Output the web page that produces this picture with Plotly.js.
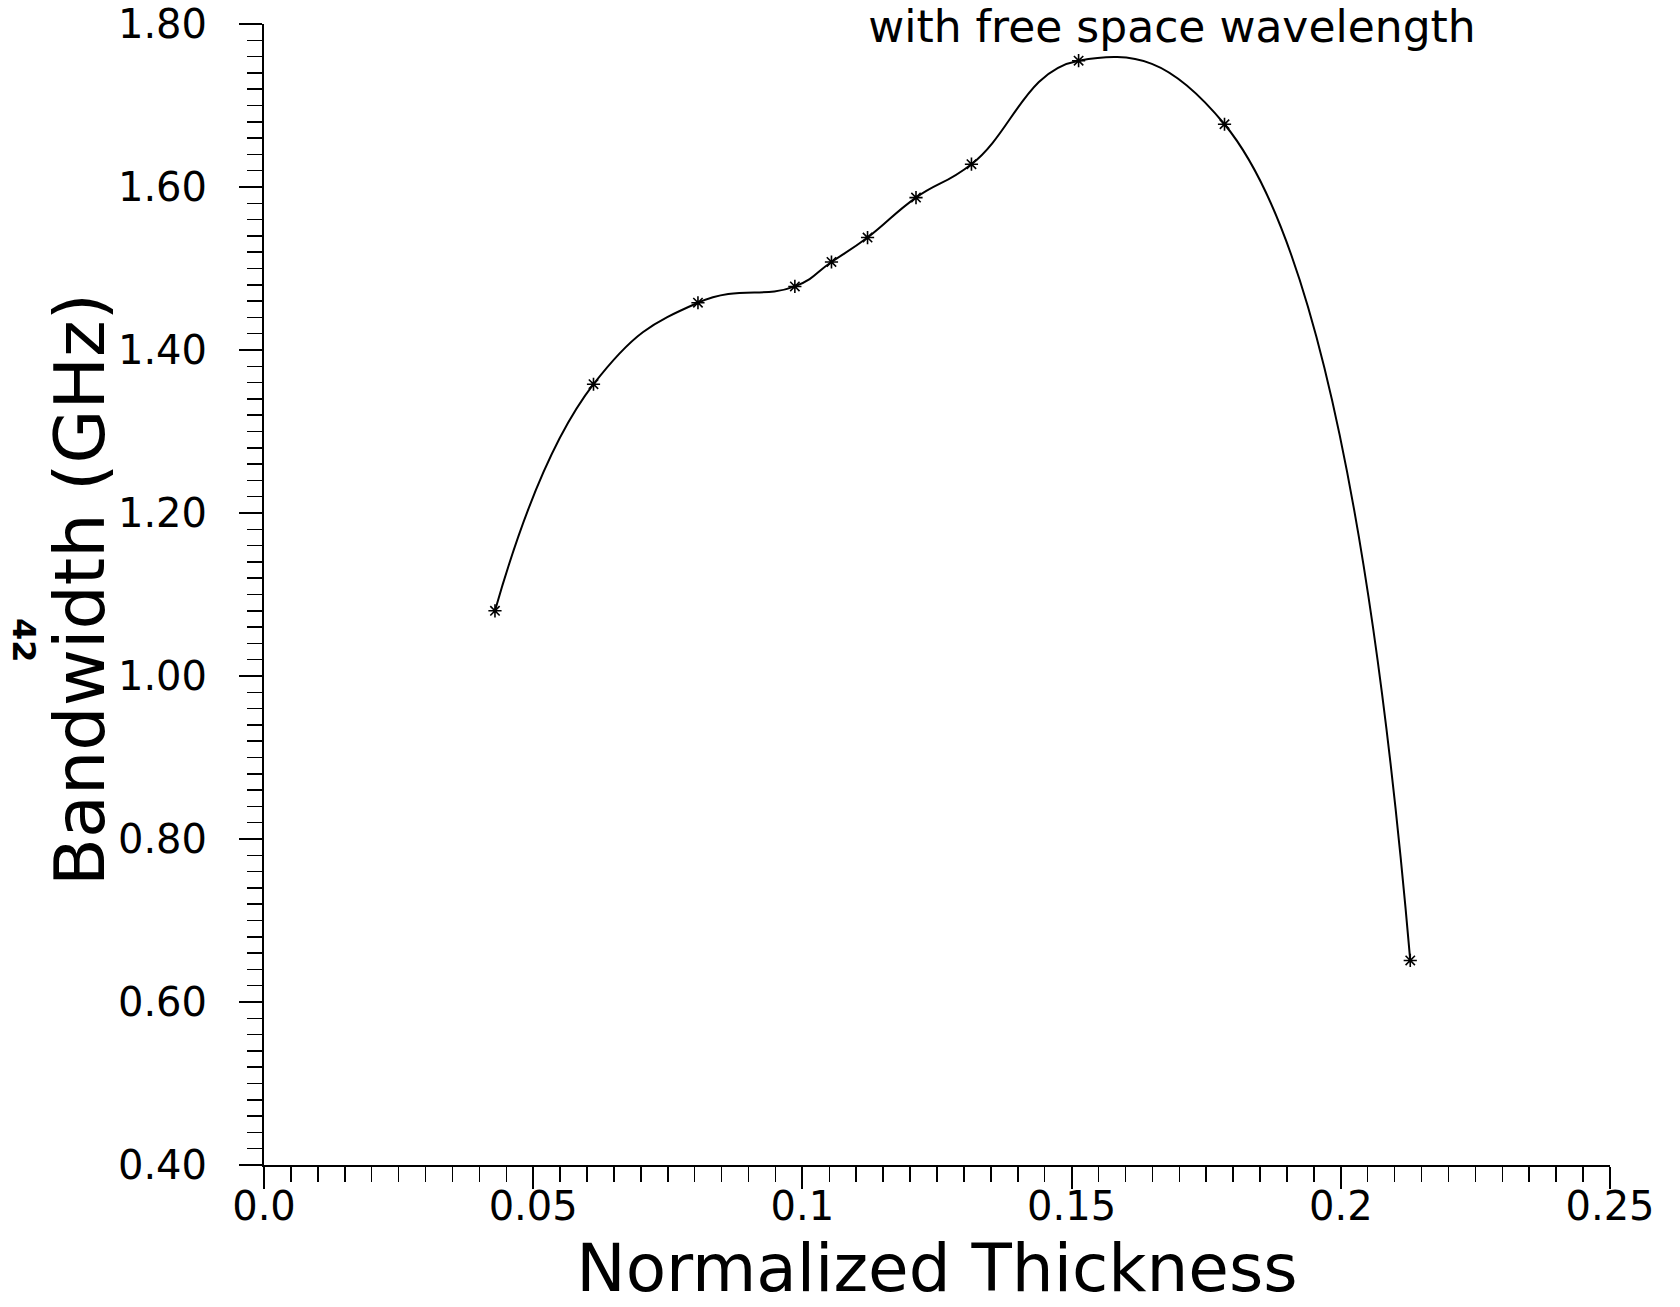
<!DOCTYPE html>
<html>
<head>
<meta charset="utf-8">
<script src="https://cdn.plot.ly/plotly-3.0.1.min.js"></script>
<style>
  html, body { margin: 0; padding: 0; background: #ffffff; }
  #chart { width: 1680px; height: 1307px; }
</style>
</head>
<body>
<div id="chart"></div>
<script>
// Data
const thickness = [0.0429, 0.0612, 0.0806, 0.0986, 0.1054, 0.1121, 0.1211, 0.1314, 0.1513, 0.1784, 0.2129];
const bandwidth = [1.080, 1.358, 1.458, 1.478, 1.508, 1.538, 1.587, 1.628, 1.755, 1.677, 0.651];

const xTickVals = [0, 0.05, 0.1, 0.15, 0.2, 0.25];
const xTickText = ["0.0", "0.05", "0.1", "0.15", "0.2", "0.25"];
const yTickVals = [0.4, 0.6, 0.8, 1.0, 1.2, 1.4, 1.6, 1.8];
const yTickText = ["0.40", "0.60", "0.80", "1.00", "1.20", "1.40", "1.60", "1.80"];

const titleText = "with free space wavelength";
const xTitle = "Normalized Thickness";
const yTitle = "Bandwidth (GHz)";
const pageNumber = "42";

const FONT = "DejaVu Sans, Noto Sans, sans-serif";

const trace = {
  x: thickness,
  y: bandwidth,
  type: "scatter",
  mode: "lines+markers",
  line: { color: "#000000", width: 2, shape: "spline", smoothing: 1.3 },
  marker: { symbol: "asterisk-open", size: 11, color: "#000000", line: { color: "#000000", width: 1.6 } },
  showlegend: false,
  hoverinfo: "x+y"
};

const layout = {
  width: 1680,
  height: 1307,
  paper_bgcolor: "#ffffff",
  plot_bgcolor: "#ffffff",
  margin: { l: 264, r: 70, t: 24, b: 142, pad: 0 },
  font: { family: FONT, color: "#000000", size: 40 },
  title: {
    text: titleText,
    x: 1172 / 1680,
    xanchor: "center",
    y: 1 - 27 / 1307,
    yanchor: "middle",
    font: { family: FONT, size: 44, color: "#000000" }
  },
  xaxis: {
    range: [0, 0.25],
    tickmode: "array",
    tickvals: xTickVals,
    ticktext: xTickText,
    ticks: "outside",
    ticklen: 22,
    tickwidth: 2,
    tickcolor: "#000000",
    minor: { dtick: 0.005, tick0: 0, ticks: "outside", ticklen: 15, tickwidth: 1.5, tickcolor: "#000000", showgrid: false },
    showline: true,
    linecolor: "#000000",
    linewidth: 2,
    showgrid: false,
    zeroline: false,
    mirror: false,
    ticklabelstandoff: -17,
    tickfont: { family: FONT, size: 40, color: "#000000" },
    title: { text: xTitle, font: { family: FONT, size: 66, color: "#000000" }, standoff: 24 }
  },
  yaxis: {
    range: [0.4, 1.8],
    tickmode: "array",
    tickvals: yTickVals,
    ticktext: yTickText,
    ticks: "outside",
    ticklen: 23,
    tickwidth: 2,
    tickcolor: "#000000",
    minor: { dtick: 0.02, tick0: 0.4, ticks: "outside", ticklen: 15, tickwidth: 1.5, tickcolor: "#000000", showgrid: false },
    showline: true,
    linecolor: "#000000",
    linewidth: 2,
    showgrid: false,
    zeroline: false,
    mirror: false,
    ticklabelstandoff: 24,
    tickfont: { family: FONT, size: 40, color: "#000000" }
  },
  annotations: [
    {
      text: yTitle,
      xref: "paper", yref: "paper",
      x: (80 - 264) / 1346, y: 1 - (590 - 24) / 1141,
      xanchor: "center", yanchor: "middle",
      textangle: -90,
      showarrow: false,
      font: { family: FONT, size: 70, color: "#000000" }
    },
    {
      text: pageNumber,
      xref: "paper", yref: "paper",
      x: (24 - 264) / 1346, y: 1 - (640 - 24) / 1141,
      xanchor: "center", yanchor: "middle",
      textangle: 90,
      showarrow: false,
      font: { family: FONT, size: 32, color: "#000000", weight: "bold" }
    }
  ]
};

Plotly.newPlot("chart", [trace], layout, { displayModeBar: false, staticPlot: true });
</script>
</body>
</html>
